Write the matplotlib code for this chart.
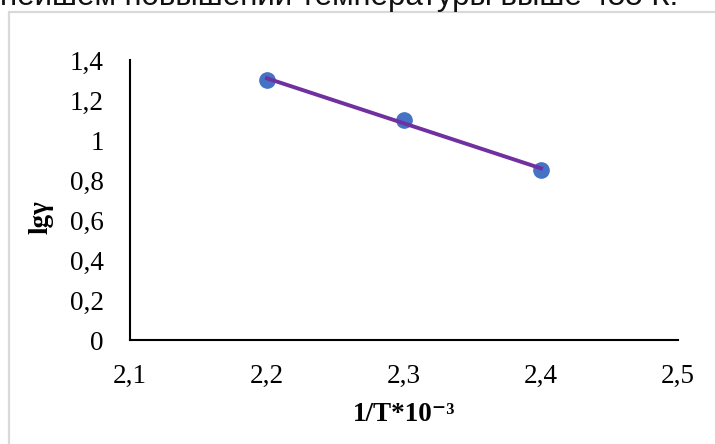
import numpy as np
import matplotlib
matplotlib.use("Agg")
import matplotlib.pyplot as plt
from matplotlib.patches import Rectangle

# data
inv_t = [2.2, 2.3, 2.4]
lg_gamma = [1.3, 1.1, 0.85]
x_ticks = [2.1, 2.2, 2.3, 2.4, 2.5]
y_ticks = [0, 0.2, 0.4, 0.6, 0.8, 1.0, 1.2, 1.4]
x_tick_labels = ["2,1", "2,2", "2,3", "2,4", "2,5"]
y_tick_labels = ["0", "0,2", "0,4", "0,6", "0,8", "1", "1,2", "1,4"]
caption = "нейшем повышении температуры выше 455 К."

W, H = 715, 444
fig = plt.figure(figsize=(W / 100, H / 100), dpi=100, facecolor="white")

# cut-off line of document text above the chart
fig.text(0.0, 1 - 5 / H, caption, ha="left", va="baseline",
         fontsize=22.5, family="Liberation Sans", color="#111111")

# light grey chart frame (runs past the right and bottom edges)
fig.patches.append(Rectangle((9 / W, -0.1), 1.2, 1 - 12 / H + 0.1,
                             transform=fig.transFigure, fill=False,
                             edgecolor="#d9d9d9", linewidth=1.6))

ax = fig.add_axes([130 / W, 1 - 340 / H, (678 - 130) / W, (340 - 60) / H])
ax.set_facecolor("none")

ax.plot(inv_t, lg_gamma, "o", color="#4472c4", markersize=11, zorder=3)
k, b = np.polyfit(inv_t, lg_gamma, 1)
fit_x = np.array([min(inv_t), max(inv_t)])
ax.plot(fit_x, k * fit_x + b, color="#7030a0", linewidth=2.8, zorder=4)

ax.set_xlim(2.1, 2.5)
ax.set_ylim(0, 1.4)
ax.set_xticks(x_ticks)
ax.set_xticklabels(x_tick_labels)
ax.set_yticks(y_ticks)
ax.set_yticklabels(y_tick_labels)

for side in ("top", "right"):
    ax.spines[side].set_visible(False)
for side in ("left", "bottom"):
    ax.spines[side].set_linewidth(1.5)
    ax.spines[side].set_color("black")

ax.tick_params(axis="both", length=0, labelsize=19.5)
ax.tick_params(axis="y", pad=19)
ax.tick_params(axis="x", pad=17)
for lab in ax.get_xticklabels() + ax.get_yticklabels():
    lab.set_family("Liberation Serif")

ax.set_xlabel("1/T*10⁻³", fontsize=19.5, fontweight="bold",
              family=["Liberation Serif", "DejaVu Serif"])
ax.xaxis.set_label_coords(0.5, -0.22)
ax.set_ylabel("lgγ", fontsize=19.5, fontweight="bold",
              family=["Liberation Serif", "DejaVu Serif"])
ax.yaxis.set_label_coords(-0.14, 0.44)

fig.savefig("out.png", dpi=100, facecolor="white")
